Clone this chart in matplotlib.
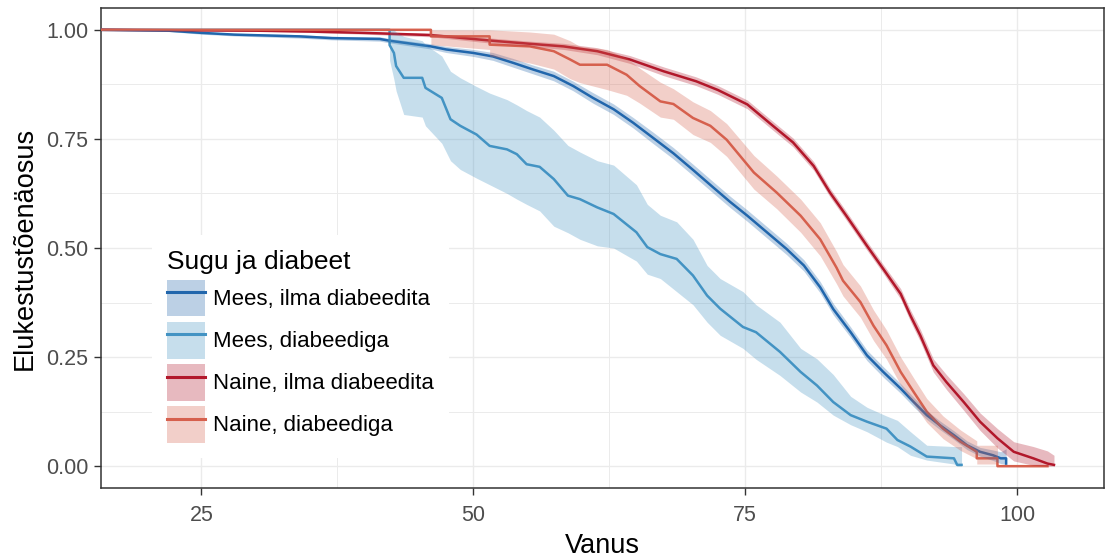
import matplotlib
matplotlib.use("Agg")
import matplotlib.pyplot as plt
from matplotlib.patches import Patch
from matplotlib.lines import Line2D
from matplotlib.legend_handler import HandlerTuple

plt.rcParams["font.family"] = ["Liberation Sans", "DejaVu Sans"]

groups = ["Mees, ilma diabeedita", "Mees, diabeediga",
          "Naine, ilma diabeedita", "Naine, diabeediga"]
colors = ["#2166AC", "#4393C3", "#B2182B", "#D6604D"]

# Mees, ilma diabeedita
mi_age = [15.8, 22, 25, 28, 34, 37, 41.4, 42.3, 46.1, 47.5, 50, 51.8, 53.7, 55.5, 57.4, 59.2,
          61.0, 62.9, 64.7, 66.5, 68.4, 70.2, 72.1, 73.6, 75.2, 77.0, 78.8, 80.4, 81.9, 83.1,
          84.7, 86.2, 87.7, 89.3, 90.5, 91.7, 92.9, 94.2, 95.4, 96.6, 97.8, 98.5, 99.0, 99.0]
mi_surv = [1.0, 0.998, 0.993, 0.989, 0.985, 0.981, 0.979, 0.975, 0.962, 0.955, 0.947, 0.939,
           0.924, 0.909, 0.894, 0.871, 0.844, 0.818, 0.787, 0.753, 0.717, 0.679, 0.638, 0.606,
           0.574, 0.536, 0.498, 0.460, 0.410, 0.360, 0.307, 0.254, 0.216, 0.178, 0.147, 0.117,
           0.094, 0.071, 0.048, 0.033, 0.025, 0.018, 0.018, 0.006]
mi_lo = [0.999, 0.996, 0.990, 0.986, 0.981, 0.977, 0.974, 0.970, 0.956, 0.948, 0.939, 0.930,
         0.914, 0.899, 0.883, 0.860, 0.832, 0.806, 0.775, 0.740, 0.704, 0.666, 0.625, 0.593,
         0.561, 0.523, 0.485, 0.447, 0.397, 0.347, 0.295, 0.242, 0.204, 0.167, 0.136, 0.107,
         0.084, 0.061, 0.038, 0.023, 0.013, 0.006, 0.004, 0.0]
mi_hi = [1.0, 1.0, 0.996, 0.992, 0.989, 0.985, 0.984, 0.980, 0.968, 0.962, 0.955, 0.948,
         0.934, 0.919, 0.905, 0.882, 0.856, 0.830, 0.799, 0.766, 0.730, 0.692, 0.651, 0.619,
         0.587, 0.549, 0.511, 0.473, 0.423, 0.373, 0.319, 0.266, 0.228, 0.189, 0.158, 0.127,
         0.104, 0.081, 0.058, 0.043, 0.037, 0.033, 0.040, 0.040]

# Mees, diabeediga
md_age = [15.8, 42.3, 42.3, 42.7, 42.9, 43.6, 45.3, 45.6, 47.1, 47.9, 48.8, 50.3, 51.5, 53.1,
          54.0, 54.9, 56.1, 57.4, 58.7, 59.8, 61.4, 62.9, 65.0, 66.0, 67.2, 68.7, 70.2, 71.5,
          72.7, 74.8, 76.0, 78.2, 80.1, 81.6, 83.1, 84.7, 86.2, 88.0, 89.0, 90.2, 91.7, 94.2,
          94.5, 94.9]
md_surv = [1.0, 1.0, 0.965, 0.947, 0.917, 0.890, 0.890, 0.867, 0.844, 0.795, 0.780, 0.760,
           0.734, 0.726, 0.715, 0.692, 0.686, 0.658, 0.620, 0.612, 0.593, 0.578, 0.536, 0.502,
           0.486, 0.475, 0.437, 0.391, 0.361, 0.319, 0.307, 0.262, 0.216, 0.185, 0.147, 0.117,
           0.102, 0.086, 0.060, 0.045, 0.022, 0.018, 0.003, 0.003]
md_lo = [1.0, 1.0, 0.93, 0.886, 0.86, 0.806, 0.80, 0.78, 0.74, 0.70, 0.68, 0.66, 0.645, 0.625,
         0.612, 0.60, 0.585, 0.55, 0.535, 0.52, 0.505, 0.50, 0.47, 0.44, 0.43, 0.40, 0.37, 0.33,
         0.30, 0.27, 0.245, 0.208, 0.17, 0.147, 0.117, 0.095, 0.079, 0.055, 0.045, 0.025, 0.014,
         0.005, 0.0, 0.0]
md_hi = [1.0, 1.0, 1.0, 1.0, 0.995, 0.985, 0.975, 0.966, 0.94, 0.905, 0.89, 0.87, 0.855, 0.84,
         0.828, 0.815, 0.80, 0.77, 0.735, 0.72, 0.70, 0.69, 0.645, 0.60, 0.575, 0.56, 0.52, 0.46,
         0.43, 0.40, 0.37, 0.33, 0.27, 0.246, 0.21, 0.16, 0.135, 0.115, 0.105, 0.079, 0.048,
         0.045, 0.045, 0.045]

# Naine, ilma diabeedita
ni_age = [15.8, 30, 35, 40, 46.1, 49.1, 52.2, 55.2, 58.3, 61.4, 64.4, 67.5, 70.5, 72.5, 75.2,
          77.6, 79.4, 81.3, 82.8, 84.3, 86.2, 87.7, 89.3, 90.2, 91.1, 92.3, 93.5, 95.1, 96.6,
          98.2, 99.7, 101.5, 102.8, 103.4]
ni_surv = [1.0, 0.998, 0.996, 0.993, 0.988, 0.981, 0.974, 0.968, 0.962, 0.951, 0.932, 0.905,
           0.882, 0.862, 0.829, 0.779, 0.742, 0.688, 0.627, 0.574, 0.505, 0.452, 0.395, 0.345,
           0.300, 0.231, 0.193, 0.147, 0.102, 0.064, 0.033, 0.018, 0.006, 0.003]
ni_lo = [1.0, 0.997, 0.994, 0.990, 0.984, 0.976, 0.968, 0.962, 0.955, 0.943, 0.923, 0.895,
         0.872, 0.852, 0.819, 0.769, 0.732, 0.678, 0.617, 0.564, 0.495, 0.442, 0.383, 0.332,
         0.286, 0.216, 0.176, 0.128, 0.082, 0.042, 0.012, 0.002, 0.0, 0.0]
ni_hi = [1.0, 0.999, 0.998, 0.996, 0.992, 0.986, 0.980, 0.974, 0.969, 0.959, 0.941, 0.915,
         0.892, 0.872, 0.839, 0.789, 0.752, 0.698, 0.637, 0.584, 0.515, 0.462, 0.407, 0.358,
         0.314, 0.246, 0.210, 0.166, 0.122, 0.086, 0.056, 0.045, 0.035, 0.025]

# Naine, diabeediga
nd_age = [15.8, 46.1, 46.1, 51.5, 51.5, 55.2, 57.4, 58.9, 59.8, 62.3, 64.1, 65.3, 67.2, 68.4,
          70.2, 71.8, 73.3, 75.8, 77.9, 80.1, 81.9, 83.4, 84.0, 85.6, 86.8, 88.0, 89.3, 90.5,
          91.7, 93.2, 94.8, 96.3, 96.3, 98.2, 98.2, 102.8]
nd_surv = [1.0, 1.0, 0.985, 0.985, 0.966, 0.962, 0.951, 0.932, 0.920, 0.920, 0.897, 0.871,
           0.836, 0.830, 0.798, 0.780, 0.748, 0.673, 0.627, 0.574, 0.520, 0.455, 0.425, 0.376,
           0.322, 0.277, 0.216, 0.170, 0.125, 0.086, 0.056, 0.033, 0.018, 0.018, 0.0, 0.0]
nd_lo = [1.0, 1.0, 0.966, 0.955, 0.94, 0.924, 0.91, 0.888, 0.879, 0.863, 0.85, 0.832, 0.80,
         0.795, 0.76, 0.742, 0.71, 0.635, 0.59, 0.536, 0.482, 0.418, 0.39, 0.341, 0.288, 0.245,
         0.186, 0.142, 0.10, 0.063, 0.036, 0.017, 0.005, 0.005, 0.0, 0.0]
nd_hi = [1.0, 1.0, 1.0, 1.0, 1.0, 0.995, 0.99, 0.975, 0.962, 0.955, 0.935, 0.912, 0.88, 0.865,
         0.835, 0.815, 0.785, 0.712, 0.665, 0.612, 0.558, 0.492, 0.462, 0.413, 0.358, 0.312,
         0.25, 0.202, 0.155, 0.115, 0.083, 0.058, 0.048, 0.048, 0.0, 0.0]

curves = [(mi_age, mi_surv, mi_lo, mi_hi), (md_age, md_surv, md_lo, md_hi),
          (ni_age, ni_surv, ni_lo, ni_hi), (nd_age, nd_surv, nd_lo, nd_hi)]

fig = plt.figure(figsize=(11.05, 5.58), dpi=100)
ax = fig.add_axes([101 / 1105, 1 - 488 / 558, 1003 / 1105, 480 / 558])

for (age, surv, lo, hi), c in zip(curves, colors):
    ax.plot(age, surv, color=c, lw=1.8, zorder=3)
    ax.fill_between(age, lo, hi, color=c, alpha=0.3, lw=0, zorder=4)

ax.set_xlim(15.76, 108.0)
ax.set_ylim(-0.05, 1.05)
ax.set_xticks([25, 50, 75, 100])
ax.set_xticks([37.5, 62.5, 87.5], minor=True)
ax.set_yticks([0, 0.25, 0.5, 0.75, 1.0])
ax.set_yticklabels(["0.00", "0.25", "0.50", "0.75", "1.00"])
ax.set_yticks([0.125, 0.375, 0.625, 0.875], minor=True)
ax.grid(which="major", color="#EBEBEB", lw=1.0)
ax.grid(which="minor", color="#EBEBEB", lw=0.7)
ax.set_axisbelow(True)
ax.tick_params(which="major", length=5, width=1, color="#333333",
               labelsize=15.5, labelcolor="#4D4D4D", pad=4)
ax.tick_params(axis="x", which="major", pad=7.5)
ax.tick_params(which="minor", length=0)
for s in ax.spines.values():
    s.set_color("#333333")
    s.set_linewidth(1.1)

ax.set_xlabel("Vanus", fontsize=19.5, labelpad=5)
ax.set_ylabel("Elukestustõenäosus", fontsize=19.5, labelpad=6)

handles = [(Patch(facecolor=c, alpha=0.3, edgecolor="none"), Line2D([], [], color=c, lw=2.2))
           for c in colors]
leg = ax.legend(handles, groups, title="Sugu ja diabeet", loc="lower left",
                bbox_to_anchor=(0.0508, 0.0625), borderaxespad=0, fontsize=16,
                title_fontsize=19, handlelength=1.69, handleheight=2.17, labelspacing=0.243,
                handletextpad=0.36, borderpad=0.68, frameon=True, framealpha=1,
                edgecolor="none", fancybox=False, alignment="left",
                handler_map={tuple: HandlerTuple(ndivide=1, pad=0)})
leg.set_zorder(10)

fig.savefig("out.png", dpi=100)
